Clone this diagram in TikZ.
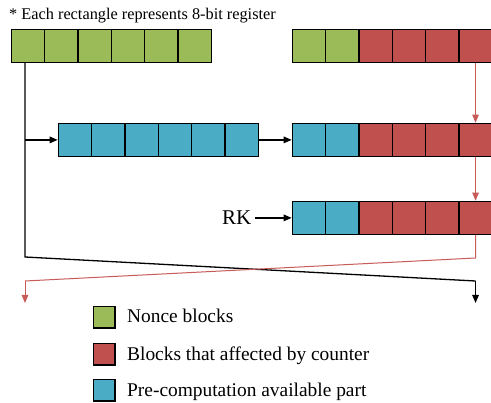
\documentclass[tikz,border=0pt]{standalone}
\usepackage{fontspec}
\setmainfont{Liberation Serif}
\usetikzlibrary{arrows.meta}
\definecolor{ngreen}{RGB}{155,187,89}
\definecolor{cred}{RGB}{192,80,77}
\definecolor{pblue}{RGB}{75,172,198}
\definecolor{rline}{RGB}{200,90,88}
\begin{document}
\begin{tikzpicture}[x=1pt,y=-1pt,
  cell/.style={draw=black,line width=1.4pt,minimum width=33.3pt,minimum height=33pt,inner sep=0pt,anchor=north west},
  gcell/.style={cell,fill=ngreen},
  rcell/.style={cell,fill=cred},
  bcell/.style={cell,fill=pblue},
  blk/.style={draw=black,line width=1.3pt},
  red/.style={draw=rline,line width=1pt},
  tipb/.style={-{Triangle[length=8pt,width=6.5pt]}},
  lbl/.style={font=\fontsize{19.4}{23}\selectfont,anchor=base west,inner sep=0pt},
  legsq/.style={draw=black,line width=1.4pt,minimum width=21.5pt,minimum height=21.5pt,inner sep=0pt,anchor=north west}]
\clip (0,0) rectangle (491,403);
\fill[white] (0,0) rectangle (491,403);
\node[font=\fontsize{16.3}{19}\selectfont,anchor=base west,inner sep=0pt] (note) at (9,20) {* Each rectangle represents 8-bit register};
% top-left nonce row
\foreach \i in {1,...,6} \node[gcell] (a\i) at ({10.7+33.3*(\i-1)},28.7) {};
% top-right row
\foreach \i in {1,2} \node[gcell] (b\i) at ({291.7+33.3*(\i-1)},28.7) {};
\foreach \i in {3,...,6} \node[rcell] (b\i) at ({291.7+33.3*(\i-1)},28.7) {};
% middle-left blue row
\foreach \i in {1,...,6} \node[bcell] (c\i) at ({57.7+33.3*(\i-1)},122.7) {};
% middle-right row
\foreach \i in {1,2} \node[bcell] (d\i) at ({291.7+33.3*(\i-1)},122.7) {};
\foreach \i in {3,...,6} \node[rcell] (d\i) at ({291.7+33.3*(\i-1)},122.7) {};
% bottom row
\foreach \i in {1,2} \node[bcell] (e\i) at ({291.7+33.3*(\i-1)},200.7) {};
\foreach \i in {3,...,6} \node[rcell] (e\i) at ({291.7+33.3*(\i-1)},200.7) {};
% RK
\node[font=\fontsize{21}{24}\selectfont,anchor=base west,inner sep=0pt] (rk) at (222,225) {RK};
% coordinates
\coordinate (j0) at (25,0 |- a1.south);
\coordinate (j1) at (25,0 |- c1.west);
\coordinate (k1) at (25,257);
\coordinate (k2) at (b6.south |- 0,281);
\coordinate (k3) at (b6.south |- 0,303);
\coordinate (r1) at (b6.south |- 0,258);
\coordinate (r2) at (25,281);
\coordinate (r3) at (25,303);
% black connectors
\draw[blk] (j0) -- (k1) -- (k2);
\draw[blk,tipb] (k2) -- (k3);
\draw[blk,tipb] (j1) -- (c1.west);
\draw[blk,tipb] (c6.east) -- (d1.west);
\draw[blk,tipb] (rk.east |- e1.west) ++(3,0) -- (e1.west);
% red connectors
\draw[red,tipb] (b6.south) -- (d6.north);
\draw[red,tipb] (d6.south) -- (e6.north);
\draw[red] (e6.south) -- (r1) -- (r2);
\draw[red,tipb] (r2) -- (r3);
% legend
\node[legsq,fill=ngreen] (l1) at (92.7,305.7) {};
\node[legsq,fill=cred] (l2) at (92.7,342.7) {};
\node[legsq,fill=pblue] (l3) at (92.7,378.7) {};
\node[lbl] (t1) at (127,323) {Nonce blocks};
\node[lbl] (t2) at (127,361) {Blocks that affected by counter};
\node[lbl] (t3) at (127,397) {Pre-computation available part};
\end{tikzpicture}
\end{document}
